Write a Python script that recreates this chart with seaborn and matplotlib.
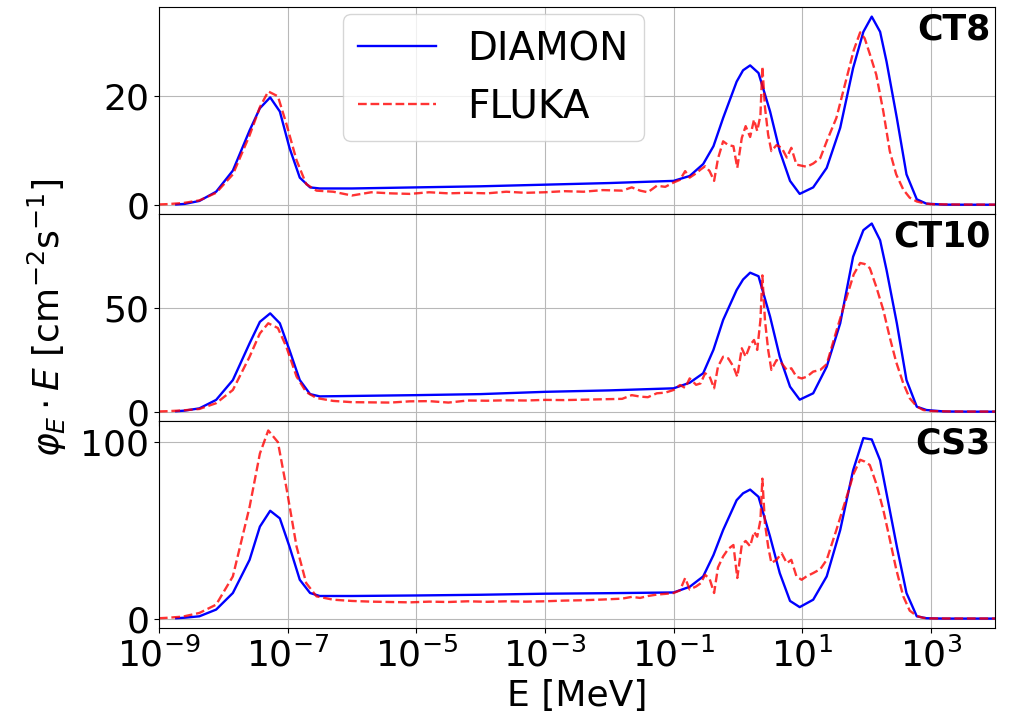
import numpy as np
import matplotlib
matplotlib.use("Agg")
import matplotlib.pyplot as plt
from matplotlib.ticker import NullLocator
import seaborn as sns

# --- data (log10 of E in MeV, phi_E * E) ---
panel_names = ["CT8", "CT10", "CS3"]
panel_yticks = [[0, 20], [0, 50], [0, 100]]

log_e_diamon = [-8.73, -8.6, -8.37, -8.11, -7.85, -7.59, -7.43, -7.27, -7.12, -6.97,
                -6.81, -6.65, -6.5, -6.0, -5.0, -4.0, -3.0, -2.0, -1.0, -0.75,
                -0.54, -0.38, -0.23, -0.02, 0.08, 0.19, 0.32, 0.5, 0.65, 0.81,
                0.96, 1.17, 1.38, 1.59, 1.79, 1.95, 2.08, 2.21, 2.31, 2.47,
                2.62, 2.78, 2.93, 3.2, 3.6, 4.0]

diamon_ct8 = [0.05, 0.15, 0.7, 2.4, 6.3, 13.7, 17.8, 19.8, 17.2, 10.5,
              5.0, 3.2, 3.0, 3.0, 3.2, 3.4, 3.7, 4.0, 4.4, 5.3,
              7.5, 10.8, 16.0, 22.7, 24.8, 25.7, 24.3, 17.2, 9.9, 4.4,
              2.0, 3.2, 6.8, 14.2, 25.2, 31.9, 34.7, 31.9, 26.4, 16.0,
              5.6, 1.0, 0.2, 0.02, 0.0, 0.0]
diamon_ct10 = [0.2, 0.5, 1.6, 5.7, 15.3, 33.1, 43.5, 47.6, 42.8, 29.8,
               15.3, 8.5, 7.4, 7.6, 8.0, 8.5, 9.6, 10.3, 11.3, 14.0,
               18.6, 30.0, 44.4, 58.9, 64.0, 67.3, 65.6, 46.0, 26.6, 12.1,
               5.8, 8.9, 21.8, 42.8, 75.0, 87.9, 91.1, 83.0, 68.6, 42.8,
               15.3, 2.4, 0.8, 0.1, 0.0, 0.0]
diamon_cs3 = [0.2, 0.5, 1.3, 5.1, 14.5, 33.3, 52.1, 61.1, 56.8, 40.8,
              22.0, 14.5, 12.8, 12.8, 13.1, 13.5, 14.1, 14.4, 14.8, 18.0,
              23.9, 36.0, 50.2, 67.1, 71.0, 73.1, 69.0, 46.4, 25.8, 10.0,
              6.5, 10.7, 23.9, 50.2, 84.0, 102.3, 101.5, 89.7, 70.9, 40.8,
              14.5, 1.3, 0.2, 0.0, 0.0, 0.0]

log_e_fluka = [-9.0, -8.89, -8.63, -8.37, -8.11, -7.85, -7.59, -7.43, -7.30, -7.15,
               -7.02, -6.86, -6.71, -6.55, -6.29, -6.0, -5.7, -5.4, -5.1, -4.8,
               -4.5, -4.2, -3.9, -3.6, -3.3, -3.0, -2.7, -2.4, -2.1, -1.8,
               -1.65, -1.52, -1.40, -1.26, -1.13, -1.0, -0.90, -0.82, -0.75, -0.65,
               -0.58, -0.51, -0.44, -0.37, -0.31, -0.23, -0.15, -0.07, -0.01, 0.06,
               0.12, 0.19, 0.25, 0.30, 0.35, 0.38, 0.42, 0.47, 0.52, 0.60,
               0.68, 0.76, 0.83, 0.91, 0.99, 1.07, 1.17, 1.28, 1.38, 1.53,
               1.69, 1.80, 1.90, 1.97, 2.05, 2.15, 2.26, 2.36, 2.46, 2.57,
               2.67, 2.78, 2.88, 3.0, 3.3, 3.6, 4.0]

fluka_ct8 = [0.05, 0.1, 0.3, 0.8, 2.2, 5.6, 12.8, 18.0, 20.9, 20.0,
             15.0, 8.2, 3.8, 2.6, 2.4, 1.7, 2.3, 2.1, 2.0, 2.3,
             2.1, 2.2, 2.1, 2.4, 2.2, 2.3, 2.5, 2.4, 2.7, 2.6,
             3.2, 2.6, 2.3, 3.5, 3.3, 4.1, 4.6, 6.2, 5.0, 5.8,
             6.5, 7.1, 6.2, 4.4, 8.5, 11.7, 11.0, 10.8, 6.8, 12.3,
             14.5, 12.5, 15.7, 13.6, 16.5, 25.5, 18.0, 12.9, 9.9, 11.0,
             10.5, 8.7, 10.5, 7.4, 7.2, 7.0, 7.6, 8.6, 11.7, 16.0,
             23.4, 28.5, 31.8, 30.7, 27.8, 24.0, 17.2, 9.9, 5.6, 2.8,
             1.3, 0.6, 0.3, 0.1, 0.05, 0.03, 0.02]
fluka_ct10 = [0.1, 0.2, 0.6, 1.3, 4.1, 10.5, 26.6, 37.9, 42.8, 40.5,
              31.5, 17.0, 9.5, 6.6, 5.2, 4.6, 4.5, 4.4, 5.0, 5.1,
              4.4, 5.4, 5.3, 5.5, 5.4, 5.7, 5.6, 5.8, 6.0, 6.2,
              8.0, 7.3, 7.0, 8.9, 9.2, 10.5, 12.9, 11.5, 16.1, 13.0,
              13.7, 18.6, 17.0, 11.3, 21.8, 26.6, 25.8, 21.8, 16.9, 30.7,
              26.6, 32.3, 34.7, 29.9, 44.4, 66.0, 44.4, 29.9, 20.2, 25.0,
              23.4, 20.2, 21.0, 16.9, 16.1, 16.9, 19.4, 20.2, 23.0, 39.0,
              55.5, 66.5, 72.0, 71.5, 69.5, 60.5, 49.2, 36.0, 24.0, 13.7,
              6.5, 2.5, 0.8, 0.3, 0.1, 0.05, 0.05]
fluka_cs3 = [0.2, 0.4, 1.1, 3.2, 7.9, 23.9, 63.3, 93.5, 106.6, 100.0,
             74.6, 40.8, 20.1, 12.6, 10.7, 10.0, 9.6, 9.4, 9.2, 9.6,
             9.4, 9.8, 9.5, 9.8, 9.6, 9.8, 10.2, 10.4, 10.8, 11.3,
             12.3, 11.7, 12.8, 13.6, 14.0, 14.5, 16.0, 23.0, 16.5, 18.2,
             20.0, 24.8, 22.5, 14.5, 29.0, 35.2, 39.5, 41.7, 23.0, 41.7,
             44.0, 41.0, 49.2, 46.4, 55.8, 79.3, 53.9, 40.8, 31.5, 33.3,
             37.0, 31.4, 33.3, 23.9, 22.0, 24.0, 25.8, 28.0, 33.3, 50.2,
             69.0, 82.2, 90.0, 89.0, 87.0, 76.5, 61.5, 45.0, 28.0, 12.6,
             4.5, 1.5, 0.4, 0.1, 0.05, 0.05, 0.05]

diamon_sets = [diamon_ct8, diamon_ct10, diamon_cs3]
fluka_sets = [fluka_ct8, fluka_ct10, fluka_cs3]

FS = 26
e_diamon = 10.0 ** np.array(log_e_diamon)
e_fluka = 10.0 ** np.array(log_e_fluka)

fig, axes = plt.subplots(3, 1, sharex=True, figsize=(10.25, 7.21), dpi=100)
fig.subplots_adjust(left=0.155, right=0.971, top=0.990, bottom=0.129, hspace=0)

for i, ax in enumerate(axes):
    sns.lineplot(x=e_diamon, y=diamon_sets[i], ax=ax, color="blue", linewidth=1.7,
                 estimator=None, sort=False, label="DIAMON" if i == 0 else None)
    sns.lineplot(x=e_fluka, y=fluka_sets[i], ax=ax, color="red", alpha=0.8,
                 linestyle="--", linewidth=1.7, estimator=None, sort=False,
                 label="FLUKA" if i == 0 else None)
    ax.set_xscale("log")
    ax.set_xlim(1e-9, 1e4)
    ax.set_xticks([10.0 ** k for k in range(-9, 4, 2)])
    ax.xaxis.set_minor_locator(NullLocator())
    ax.set_yticks(panel_yticks[i])
    ax.tick_params(labelsize=FS)
    ax.grid(True, color="#b8b8b8", linewidth=0.8)
    ax.set_ylabel("")
    ax.text(0.994, 0.975, panel_names[i], transform=ax.transAxes, ha="right", va="top",
            fontsize=25, fontweight="bold")
    if i > 0 and ax.get_legend() is not None:
        ax.get_legend().remove()

axes[0].legend(fontsize=28, loc="upper left", bbox_to_anchor=(0.22, 0.965), borderaxespad=0)
axes[1].set_ylabel(r"$\varphi_E \cdot E$ [cm$^{-2}$s$^{-1}$]", fontsize=FS)
axes[1].yaxis.set_label_coords(-0.107, 0.5)
axes[2].set_xlabel("E [MeV]", fontsize=FS)

fig.savefig("out.png", dpi=100, facecolor="white")
